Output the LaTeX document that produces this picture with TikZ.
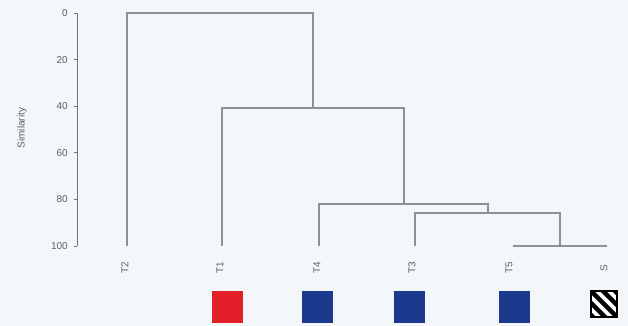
\documentclass[tikz,border=0pt]{standalone}
\usepackage{fontspec}
\usetikzlibrary{calc}
\setmainfont{Liberation Sans}
\definecolor{bg}{HTML}{F3F7FA}
\definecolor{ln}{HTML}{8C9396}
\definecolor{ax}{HTML}{6E7678}
\definecolor{txt}{HTML}{5A6062}
\definecolor{myred}{HTML}{E3202A}
\definecolor{myblue}{HTML}{1B3A8E}
\begin{document}
\begin{tikzpicture}[x=1pt,y=-1pt,
  dend/.style={draw=ln,line width=1.1pt},
  leaflab/.style={rotate=90,text=txt,font=\fontsize{10}{11}\selectfont,inner sep=0pt},
  ticklab/.style={anchor=east,text=txt,font=\fontsize{10}{11}\selectfont,inner sep=0pt},
  swatch/.style={minimum width=31pt,minimum height=32pt,inner sep=0pt,draw=none}]
\fill[bg] (0,0) rectangle (628,326);
\useasboundingbox (0,0) rectangle (628,326);
% axis
\coordinate (a0) at (77,13);
\coordinate (a100) at (77,246);
\draw[ax,line width=1pt] (a0) -- (a100);
\foreach \v [count=\i] in {0,20,40,60,80,100}{
  \pgfmathsetmacro{\yy}{13+2.33*\v}
  \coordinate (t\i) at (77,\yy);
  \draw[ax,line width=0.8pt] (t\i) -- ++(-3,0);
  \node[ticklab] (tl\i) at (68,\yy) {\v};
}
\node[rotate=90,text=txt,font=\fontsize{10}{11}\selectfont,inner sep=0pt] (ylab) at (22,128) {Similarity};
% leaves
\coordinate (T2) at (127,246);
\coordinate (T1) at (222,246);
\coordinate (T4) at (319,246);
\coordinate (T3) at (415,246);
\coordinate (T5) at (513,246);
\coordinate (S)  at (607,246);
% merge points
\coordinate (m1) at (560,246);
\coordinate (m2) at (488,213);
\coordinate (m3) at (404,204);
\coordinate (m4) at (313,108);
\coordinate (m5) at (220,13);
\draw[dend] (T5) -- (S);
\draw[dend] (T3) |- (m2) -| (m1);
\draw[dend] (T4) |- (m3) -| (m2);
\draw[dend] (T1) |- (m4) -| (m3);
\draw[dend] (T2) |- (m5) -| (m4);
% labels
\node[leaflab] (lT2) at (125,268) {T2};
\node[leaflab] (lT1) at (220,268) {T1};
\node[leaflab] (lT4) at (317,268) {T4};
\node[leaflab] (lT3) at (412,268) {T3};
\node[leaflab] (lT5) at (509,268) {T5};
\node[leaflab] (lS)  at (604,268) {S};
% swatches
\node[swatch,fill=myred] (s1) at (227.5,306.5) {};
\node[swatch,fill=myblue] (s2) at (317.5,306.5) {};
\node[swatch,fill=myblue] (s3) at (409,306.5) {};
\node[swatch,fill=myblue] (s4) at (514,306.5) {};
\node[minimum width=26pt,minimum height=26pt,inner sep=0pt,fill=white] (s5) at (604,304) {};
\begin{scope}
  \clip (s5.south west) rectangle (s5.north east);
  \foreach \d in {-36,-24,...,36}{
    \draw[black,line width=4.5pt] ($(s5.center)+(\d-20,-20)$) -- ($(s5.center)+(\d+20,20)$);
  }
\end{scope}
\draw[black,line width=1.5pt] (s5.south west) rectangle (s5.north east);
\end{tikzpicture}
\end{document}
